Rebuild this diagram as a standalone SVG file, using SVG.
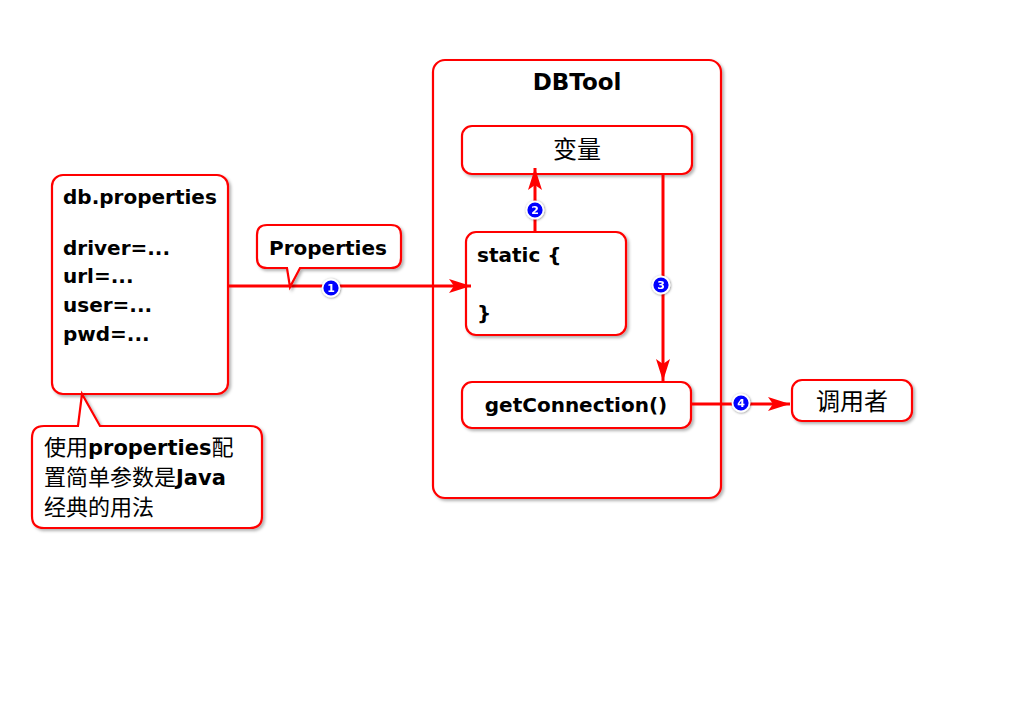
<svg xmlns="http://www.w3.org/2000/svg" width="1024" height="728" viewBox="0 0 1024 728">
<style>
.box{fill:#fff;stroke:#ff0000;stroke-width:2.2;filter:url(#sh)}
.t{font-family:"DejaVu Sans","Noto Sans CJK SC",sans-serif;font-weight:bold;font-size:20px;fill:#000}
.c{font-family:"Noto Sans CJK SC",sans-serif;font-weight:normal;font-size:24px;fill:#000}
.cn{font-family:"Noto Sans CJK SC",sans-serif;font-weight:normal;font-size:22px}
.cm{font-family:"Noto Sans CJK SC",sans-serif;font-weight:normal;font-size:22px;fill:#000}
.ln{stroke:#ff0000;stroke-width:3;fill:none}
.bd circle{fill:#0000ff;stroke:#fff;stroke-width:1.8}
.bd text{font-family:"DejaVu Sans",sans-serif;font-weight:bold;font-size:11px;fill:#fff;text-anchor:middle}
</style>
<defs>
<filter id="sh" x="-10%" y="-10%" width="130%" height="130%">
<feDropShadow dx="2" dy="2" stdDeviation="1.5" flood-color="#000" flood-opacity="0.3"/>
</filter>
<filter id="bs" x="-30%" y="-30%" width="160%" height="160%">
<feDropShadow dx="0.5" dy="0.5" stdDeviation="0.8" flood-color="#000" flood-opacity="0.5"/>
</filter>
<marker id="ah" markerWidth="24" markerHeight="14" refX="22" refY="7" orient="auto" markerUnits="userSpaceOnUse">
<path d="M0,0 L22,7 L0,14 L5,7 Z" fill="#ff0000"/>
</marker>
</defs>
<rect width="1024" height="728" fill="#fff"/>

<g id="dbtool">
<rect class="box" x="433" y="60" width="288" height="438" rx="12"/>
<text class="t" x="577" y="90" text-anchor="middle" style="font-size:23px">DBTool</text>
</g>

<g id="dbprops">
<rect class="box" x="52" y="175" width="176" height="219" rx="11"/>
<text class="t" x="63" y="204">db.properties</text>
<text class="t" x="63" y="255">driver=...</text>
<text class="t" x="63" y="283">url=...</text>
<text class="t" x="63" y="312">user=...</text>
<text class="t" x="63" y="341">pwd=...</text>
</g>

<g id="bianliang">
<rect class="box" x="462" y="126" width="230" height="48" rx="10"/>
<text class="c" x="577" y="158" text-anchor="middle">变量</text>
</g>

<g id="static">
<rect class="box" x="466" y="232" width="160" height="103" rx="10"/>
<text class="t" x="477" y="262">static {</text>
<text class="t" x="477" y="320">}</text>
</g>

<g id="getconn">
<rect class="box" x="462" y="382" width="229" height="46" rx="10"/>
<text class="t" x="576" y="412" text-anchor="middle">getConnection()</text>
</g>

<g id="caller">
<rect class="box" x="792" y="380" width="120" height="41" rx="10"/>
<text class="c" x="852" y="410" text-anchor="middle">调用者</text>
</g>

<g id="connectors">
<line class="ln" x1="228" y1="286" x2="471" y2="286" marker-end="url(#ah)"/>
<line class="ln" x1="535" y1="232" x2="535" y2="168" marker-end="url(#ah)"/>
<line class="ln" x1="663" y1="174" x2="663" y2="381" marker-end="url(#ah)"/>
<line class="ln" x1="691" y1="404" x2="790" y2="404" marker-end="url(#ah)"/>
</g>

<g id="propcallout">
<path class="box" d="M267,225 H391 Q401,225 401,235 V258 Q401,268 391,268 H300 L290,287 L287,268 H267 Q257,268 257,258 V235 Q257,225 267,225 Z"/>
<text class="t" x="269" y="255">Properties</text>
</g>

<g id="comment">
<path class="box" d="M44,426 H78 L82,394 L100,426 H250 Q262,426 262,438 V516 Q262,528 250,528 H44 Q32,528 32,516 V438 Q32,426 44,426 Z"/>
<text class="t" x="44" y="455" style="font-size:21px"><tspan class="cn">使用</tspan>properties<tspan class="cn">配</tspan></text>
<text class="t" x="44" y="485" style="font-size:21px"><tspan class="cn">置简单参数是</tspan>Java</text>
<text class="cm" x="44" y="515">经典的用法</text>
</g>

<g id="badges" filter="url(#bs)">
<g class="bd"><circle cx="331" cy="288" r="8.5"/><text x="331" y="292">1</text></g>
<g class="bd"><circle cx="535" cy="210" r="8.5"/><text x="535" y="214">2</text></g>
<g class="bd"><circle cx="661" cy="285" r="8.5"/><text x="661" y="289">3</text></g>
<g class="bd"><circle cx="741" cy="403" r="8.5"/><text x="741" y="407">4</text></g>
</g>
</svg>
